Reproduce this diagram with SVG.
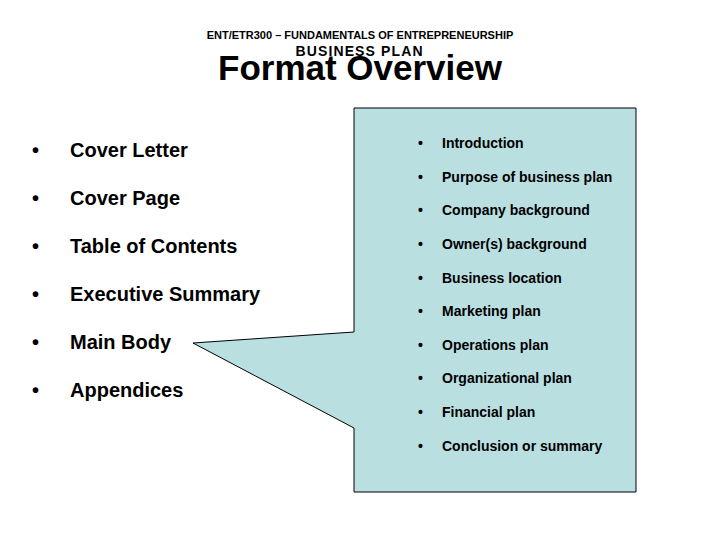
<svg xmlns="http://www.w3.org/2000/svg" width="720" height="540" viewBox="0 0 720 540">
<style>
text{font-family:"Liberation Sans",Arial,sans-serif;fill:#000;font-weight:bold}
.l{font-size:20px}
.r{font-size:14px}
</style>
<rect width="720" height="540" fill="#fff"/>
<g id="header">
<text x="360" y="39" font-size="11" text-anchor="middle">ENT/ETR300 – FUNDAMENTALS OF ENTREPRENEURSHIP</text>
<text x="359" y="56" font-size="14" font-weight="normal" text-anchor="middle" textLength="127">BUSINESS PLAN</text>
<text x="360" y="80" font-size="35" text-anchor="middle">Format Overview</text>
</g>
<g id="left-list">
<text class="l" x="32" y="157">•</text><text class="l" x="70" y="157">Cover Letter</text>
<text class="l" x="32" y="205">•</text><text class="l" x="70" y="205">Cover Page</text>
<text class="l" x="32" y="253">•</text><text class="l" x="70" y="253">Table of Contents</text>
<text class="l" x="32" y="301">•</text><text class="l" x="70" y="301">Executive Summary</text>
<text class="l" x="32" y="349">•</text><text class="l" x="70" y="349">Main Body</text>
<text class="l" x="32" y="397">•</text><text class="l" x="70" y="397">Appendices</text>
</g>
<g id="callout">
<path d="M354,108 H636 V492 H354 V428 L193,343 L354,332 Z" fill="#badfe1" stroke="#000" stroke-width="1"/>
<text class="r" x="418" y="148">•</text><text class="r" x="442" y="148">Introduction</text>
<text class="r" x="418" y="182">•</text><text class="r" x="442" y="182">Purpose of business plan</text>
<text class="r" x="418" y="215">•</text><text class="r" x="442" y="215">Company background</text>
<text class="r" x="418" y="249">•</text><text class="r" x="442" y="249">Owner(s) background</text>
<text class="r" x="418" y="283">•</text><text class="r" x="442" y="283">Business location</text>
<text class="r" x="418" y="316">•</text><text class="r" x="442" y="316">Marketing plan</text>
<text class="r" x="418" y="350">•</text><text class="r" x="442" y="350">Operations plan</text>
<text class="r" x="418" y="383">•</text><text class="r" x="442" y="383">Organizational plan</text>
<text class="r" x="418" y="417">•</text><text class="r" x="442" y="417">Financial plan</text>
<text class="r" x="418" y="451">•</text><text class="r" x="442" y="451">Conclusion or summary</text>
</g>
<g id="connectors"/>
</svg>
